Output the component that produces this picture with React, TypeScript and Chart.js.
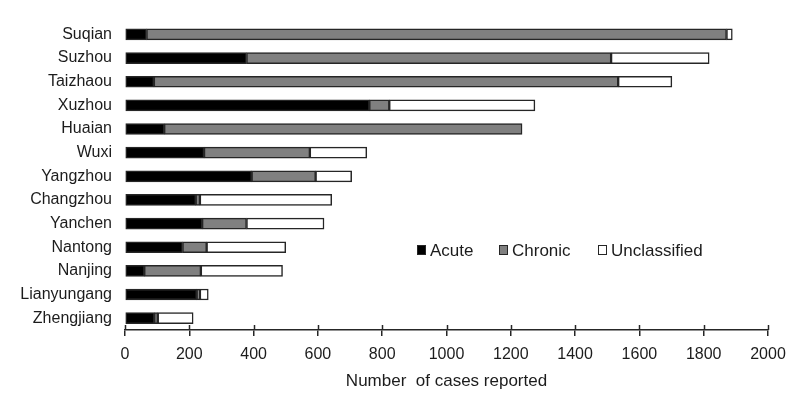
import React, { useEffect, useRef } from "react";
import { Chart, registerables } from "chart.js";

Chart.register(...registerables);

const cities = [
  "Suqian", "Suzhou", "Taizhaou", "Xuzhou", "Huaian", "Wuxi", "Yangzhou",
  "Changzhou", "Yanchen", "Nantong", "Nanjing", "Lianyungang", "Zhengjiang",
];
const acute = [67, 378, 90, 760, 122, 246, 394, 220, 240, 179, 60, 223, 91];
const chronic = [1804, 1134, 1444, 62, 1113, 329, 199, 13, 138, 75, 176, 10, 11];
const unclassified = [18, 305, 167, 453, null, 177, 112, 410, 241, 246, 254, 26, 110];
const seriesNames = ["Acute", "Chronic", "Unclassified"];
const seriesColors = ["#000000", "#808080", "#ffffff"];
const xTitle = "Number  of cases reported";

const FONT = "'Liberation Sans', Arial, sans-serif";
const TEXT = "#1c1c1c";
const EDGE = "#262626";

const extras = {
  id: "extras",
  afterDatasetsDraw(chart: any) {
    const { ctx } = chart;
    const x = chart.scales.x;
    const bottom = chart.chartArea.bottom;
    ctx.save();
    ctx.strokeStyle = EDGE;
    ctx.lineWidth = 1.5;
    x.ticks.forEach((t: any) => {
      const px = Math.round(x.getPixelForValue(t.value)) + 0.5;
      ctx.beginPath();
      ctx.moveTo(px, bottom - 5);
      ctx.lineTo(px, bottom);
      ctx.stroke();
    });
    // legend inside chart area
    const lx = [417, 499, 598];
    const ly = 250;
    ctx.font = `17px ${FONT}`;
    ctx.textBaseline = "middle";
    ctx.textAlign = "left";
    seriesNames.forEach((name, i) => {
      ctx.fillStyle = seriesColors[i];
      ctx.fillRect(lx[i], ly - 5, 9, 10);
      ctx.strokeStyle = EDGE;
      ctx.lineWidth = 1;
      ctx.strokeRect(lx[i] + 0.5, ly - 4.5, 8, 9);
      ctx.fillStyle = TEXT;
      ctx.fillText(name, lx[i] + 13, ly + 1);
    });
    ctx.restore();
  },
};

export default function App() {
  const ref = useRef<HTMLCanvasElement>(null);
  useEffect(() => {
    document.body.style.margin = "0";
    const mk = (i: number, data: any[]) => ({
      label: seriesNames[i],
      data,
      backgroundColor: seriesColors[i],
      borderColor: EDGE,
      borderWidth: 1.5,
      borderSkipped: false,
      barThickness: 11,
    });
    const chart = new Chart(ref.current!, {
      type: "bar",
      data: {
        labels: cities,
        datasets: [mk(0, acute), mk(1, chronic), mk(2, unclassified)],
      },
      plugins: [extras],
      options: {
        indexAxis: "y",
        animation: false,
        responsive: false,
        maintainAspectRatio: false,
        layout: { padding: { top: 10, right: 32, left: 0, bottom: 0 } },
        plugins: { legend: { display: false }, tooltip: { enabled: false } },
        scales: {
          x: {
            stacked: true,
            min: 0,
            max: 2000,
            ticks: {
              stepSize: 200, color: TEXT, font: { family: FONT, size: 16 }, padding: 9, maxRotation: 0,
              callback: (v: any) => String(v),
            },
            grid: { display: true, drawOnChartArea: false, drawTicks: true, tickLength: 6, color: EDGE, lineWidth: 1.5 },
            border: { display: true, color: EDGE, width: 1.5 },
            title: { display: true, text: xTitle, color: TEXT, font: { family: FONT, size: 17 }, padding: { top: 4, bottom: 13 } },
            afterFit: (s: any) => { s.height = 75; },
          },
          y: {
            stacked: true,
            ticks: { color: TEXT, font: { family: FONT, size: 16 }, padding: 13 },
            grid: { display: false, drawTicks: false },
            border: { display: false },
            afterFit: (s: any) => { s.width = 125; },
          },
        },
      },
    } as any);
    return () => chart.destroy();
  }, []);
  return (
    <div style={{ width: 800, height: 405, background: "#fff" }}>
      <canvas ref={ref} width={800} height={405} />
    </div>
  );
}
